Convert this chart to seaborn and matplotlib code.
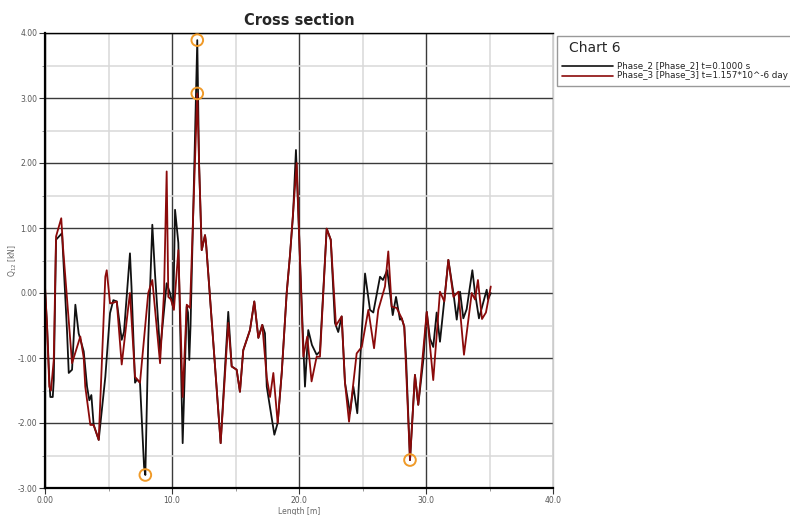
import numpy as np
import pandas as pd
import matplotlib
matplotlib.use("Agg")
import matplotlib.pyplot as plt
from matplotlib.ticker import MultipleLocator, FixedLocator
from matplotlib.patches import Rectangle
import seaborn as sns

# ---- data ----
phase2_x = [0.0, 0.16, 0.34, 0.42, 0.61, 0.69, 0.87, 1.2, 1.34, 1.73, 1.87, 2.13, 2.39, 2.65,
            3.05, 3.31, 3.49, 3.65, 3.83, 4.23, 4.75, 5.12, 5.38, 5.65, 6.04, 6.22, 6.69, 6.81,
            7.09, 7.24, 7.48, 7.8, 7.9, 8.13, 8.45, 8.66, 9.06, 9.58, 9.84, 10.1, 10.24, 10.5,
            10.84, 11.16, 11.26, 11.36, 11.46, 11.99, 12.13, 12.34, 12.6, 12.68, 13.83, 14.43,
            14.53, 14.7, 15.09, 15.35, 15.61, 16.14, 16.48, 16.8, 17.11, 17.32, 17.46, 18.06,
            18.32, 18.64, 19.03, 19.29, 19.53, 19.76, 20.12, 20.47, 20.73, 21.02, 21.39, 21.65,
            22.18, 22.5, 22.83, 23.09, 23.36, 23.62, 24.02, 24.28, 24.59, 25.2, 25.59, 25.85,
            26.38, 26.61, 26.95, 27.38, 27.64, 27.95, 28.09, 28.29, 28.43, 28.74, 29.13, 29.39,
            29.79, 30.06, 30.31, 30.57, 30.84, 31.1, 31.5, 31.76, 32.16, 32.42, 32.68, 32.94,
            33.2, 33.65, 33.86, 34.17, 34.78, 34.88, 35.1]
phase2_q = [0.05, -0.5, -1.34, -1.6, -1.6, -1.34, 0.82, 0.89, 0.92, -0.57, -1.23, -1.18, -0.18,
            -0.62, -0.9, -1.44, -1.65, -1.57, -2.03, -2.26, -1.29, -0.31, -0.11, -0.13, -0.72,
            -0.6, 0.61, 0.1, -1.38, -1.33, -1.38, -2.67, -2.8, -0.72, 1.05, 0.3, -0.9, 0.15, 0.0,
            -0.23, 1.28, 0.77, -2.31, -0.21, -0.3, -1.03, -0.5, 3.89, 2.0, 0.66, 0.89, 0.77,
            -2.31, -0.29, -0.6, -1.13, -1.18, -1.52, -0.88, -0.57, -0.13, -0.69, -0.49, -0.62,
            -1.44, -2.18, -2.0, -1.23, 0.0, 0.58, 1.2, 2.2, 0.3, -1.44, -0.57, -0.8, -0.95, -0.9,
            0.99, 0.82, -0.46, -0.6, -0.36, -1.38, -1.85, -1.44, -1.85, 0.3, -0.26, -0.3, 0.25,
            0.2, 0.35, -0.34, -0.06, -0.41, -0.39, -0.52, -1.0, -2.57, -1.26, -1.72, -1.03,
            -0.29, -0.7, -0.83, -0.3, -0.75, 0.0, 0.51, 0.0, -0.41, 0.02, -0.39, -0.25, 0.35,
            0.0, -0.39, 0.05, -0.1, 0.0]

phase3_x = [0.0, 0.16, 0.34, 0.47, 0.69, 0.87, 1.28, 1.42, 2.13, 2.78, 3.05, 3.17, 3.57, 3.83,
            4.23, 4.75, 4.86, 5.12, 5.38, 5.65, 6.04, 6.56, 6.69, 7.09, 7.48, 8.13, 8.45, 9.06,
            9.37, 9.58, 9.71, 9.92, 10.15, 10.5, 10.84, 11.16, 11.42, 11.99, 12.13, 12.34, 12.6,
            12.68, 13.83, 14.43, 14.7, 15.09, 15.35, 15.61, 16.14, 16.48, 16.8, 17.11, 17.46,
            17.72, 17.98, 18.32, 18.64, 19.03, 19.29, 19.82, 20.08, 20.34, 20.65, 20.99, 21.39,
            21.65, 22.18, 22.5, 22.91, 23.36, 23.62, 23.94, 24.54, 24.94, 25.46, 25.91, 26.24,
            26.77, 27.03, 27.3, 27.69, 28.09, 28.29, 28.74, 29.13, 29.39, 30.06, 30.57, 31.1,
            31.44, 31.76, 32.16, 32.55, 32.99, 33.6, 33.86, 34.09, 34.41, 34.72, 35.1]
phase3_q = [0.1, -0.5, -1.44, -1.5, -1.03, 0.87, 1.15, 0.7, -1.08, -0.67, -1.0, -1.44, -2.03,
            -2.03, -2.26, 0.25, 0.35, -0.16, -0.15, -0.13, -1.1, -0.21, 0.0, -1.29, -1.38, 0.0,
            0.2, -1.08, 0.0, 1.87, -0.06, -0.1, -0.26, 0.66, -1.6, -0.18, -0.23, 3.07, 2.0, 0.66,
            0.89, 0.77, -2.31, -0.46, -1.13, -1.18, -1.52, -0.88, -0.57, -0.13, -0.69, -0.49,
            -1.3, -1.6, -1.23, -2.0, -1.23, 0.0, 0.58, 2.0, 0.5, -0.98, -0.67, -1.36, -0.98,
            -0.98, 0.99, 0.82, -0.5, -0.36, -1.38, -1.98, -0.93, -0.83, -0.26, -0.85, -0.26,
            0.1, 0.64, -0.21, -0.23, -0.39, -0.52, -2.57, -1.26, -1.72, -0.29, -1.34, 0.02,
            -0.13, 0.51, -0.06, 0.02, -0.95, 0.0, -0.1, 0.2, -0.4, -0.3, 0.1]

series_labels = ["Phase_2 [Phase_2] t=0.1000 s", "Phase_3 [Phase_3] t=1.157*10^-6 day"]
x_tick_values = [0, 10, 20, 30, 40]
x_tick_labels = ["0.00", "10.0", "20.0", "30.0", "40.0"]
y_tick_values = [-3, -2, -1, 0, 1, 2, 3, 4]
y_tick_labels = ["-3.00", "-2.00", "-1.00", "0.00", "1.00", "2.00", "3.00", "4.00"]

df2 = pd.DataFrame({"x": phase2_x, "q": phase2_q})
df3 = pd.DataFrame({"x": phase3_x, "q": phase3_q})

sns.set_style("white")
plt.rcParams["font.family"] = ["DejaVu Sans"]

fig = plt.figure(figsize=(7.9, 5.15), dpi=100)
ax = fig.add_axes([45 / 790, 27 / 515, 508 / 790, 455 / 515])

# grid
ax.xaxis.set_major_locator(FixedLocator(x_tick_values))
ax.xaxis.set_minor_locator(MultipleLocator(5))
ax.yaxis.set_major_locator(FixedLocator(y_tick_values))
ax.yaxis.set_minor_locator(MultipleLocator(0.5))
ax.grid(which="minor", color="#d8d8d8", linewidth=1.1)
ax.grid(which="major", color="#3a3a3a", linewidth=1.0)
ax.set_axisbelow(True)

line_black = "#111111"
line_red = "#8b0a0a"
sns.lineplot(data=df2, x="x", y="q", sort=False, color=line_black, linewidth=1.3,
             ax=ax, label=series_labels[0], legend=False)
sns.lineplot(data=df3, x="x", y="q", sort=False, color=line_red, linewidth=1.3,
             ax=ax, label=series_labels[1], legend=False)

# extreme markers
ext = pd.DataFrame({
    "x": [df2.x[df2.q.idxmax()], df3.x[df3.q.idxmax()], df2.x[df2.q.idxmin()], df3.x[df3.q.idxmin()]],
    "q": [df2.q.max(), df3.q.max(), df2.q.min(), df3.q.min()],
})
ax.scatter(ext.x, ext.q, s=70, facecolors="none", edgecolors="#f09a28", linewidths=1.4, zorder=5)

ax.set_xlim(0, 40)
ax.set_ylim(-3, 4)
ax.set_xticks(x_tick_values)
ax.set_xticklabels(x_tick_labels)
ax.set_yticks(y_tick_values)
ax.set_yticklabels(y_tick_labels)
ax.tick_params(axis="both", which="major", labelsize=5.5, labelcolor="#555555",
               length=4, width=0.8, color="#333333", direction="out", pad=1.5,
               bottom=True, left=True)
ax.tick_params(axis="both", which="minor", length=2.5, width=0.6, color="#888888",
               direction="out", bottom=True, left=True)

for side in ["left", "bottom"]:
    ax.spines[side].set_color("#000000")
    ax.spines[side].set_linewidth(1.6)
ax.spines["top"].set_color("#000000")
ax.spines["top"].set_linewidth(1.0)
ax.spines["right"].set_color("#cccccc")
ax.spines["right"].set_linewidth(1.0)

ax.set_xlabel("Length [m]", fontsize=5.5, color="#666666", labelpad=2)
ax.set_ylabel("Q$_{12}$ [kN]", fontsize=5.5, color="#666666")
ax.yaxis.set_label_coords(-0.052, 0.5)
ax.set_title("Cross section", fontsize=10.5, fontweight="bold", pad=6)

# legend box (custom)
fig.patches.append(Rectangle((557 / 790, (515 - 86) / 515), 240 / 790, 50 / 515,
                             transform=fig.transFigure, facecolor="white",
                             edgecolor="#999999", linewidth=1.0))
fig.text(569 / 790, (515 - 48) / 515, "Chart 6", fontsize=10, va="center", ha="left")
for i, (lab, col) in enumerate(zip(series_labels, [line_black, line_red])):
    yy = (515 - (66 + i * 10)) / 515
    fig.lines.append(plt.Line2D([562 / 790, 613 / 790], [yy, yy], transform=fig.transFigure,
                                color=col, linewidth=1.2))
    fig.text(617 / 790, yy, lab, fontsize=6.3, va="center", ha="left", color="#222222")

fig.savefig("out.png", dpi=100)
